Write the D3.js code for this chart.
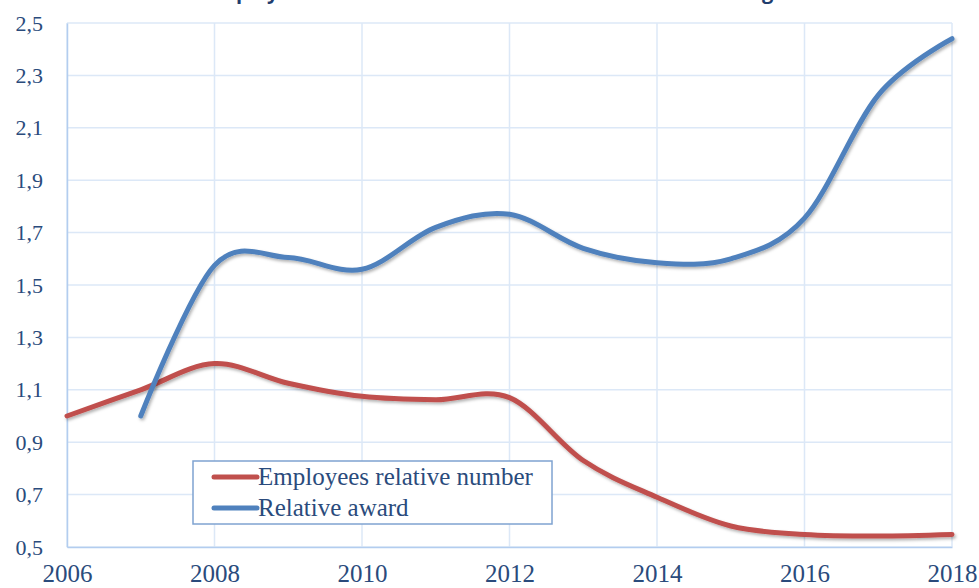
<!DOCTYPE html>
<html>
<head>
<meta charset="utf-8">
<script src="https://cdn.jsdelivr.net/npm/d3@7"></script>
<style>
  html, body { margin: 0; padding: 0; background: #ffffff; overflow: hidden; }
  svg { display: block; }
</style>
</head>
<body>
<script>
'use strict';

// chart data
const years = [2006, 2007, 2008, 2009, 2010, 2011, 2012, 2013, 2014, 2015, 2016, 2017, 2018];
const employeesRelative = [1.0, 1.1, 1.2, 1.125, 1.075, 1.062, 1.07, 0.83, 0.69, 0.58, 0.548, 0.542, 0.548];
const awardRelative = [null, 1.0, 1.575, 1.605, 1.56, 1.72, 1.77, 1.64, 1.585, 1.6, 1.755, 2.225, 2.44];
const seriesNames = ["Employees relative number", "Relative award"];
const yTicks = [0.5, 0.7, 0.9, 1.1, 1.3, 1.5, 1.7, 1.9, 2.1, 2.3, 2.5];
const xTicks = [2006, 2008, 2010, 2012, 2014, 2016, 2018];
const titleText = "Employees relative number and relative award in the region";

(function() {

  let svgContainer = "";
  const textColor = "#2a4b7c";
  const gridColor = "#dce8f7";

  window.onload = function() {
    svgContainer = d3.select('body')
      .append('svg')
      .attr('width', 979)
      .attr('height', 588);

    // soft shadow under the lines, like the office chart
    let defs = svgContainer.append('defs');
    defs.append('filter')
      .attr('id', 'shadow')
      .attr('x', '-5%').attr('y', '-5%')
      .attr('width', '110%').attr('height', '120%')
      .append('feDropShadow')
        .attr('dx', 1.5)
        .attr('dy', 2)
        .attr('stdDeviation', 1.5)
        .attr('flood-color', '#000')
        .attr('flood-opacity', 0.3);

    makeChart();
  }

  function makeChart() {
    // scales
    let xScale = d3.scaleLinear()
      .domain([2006, 2018])
      .range([67, 952]);

    let yScale = d3.scaleLinear()
      .domain([0.5, 2.5])
      .range([547, 23]);

    // title, only its bottom edge is left in the picture
    svgContainer.append('text')
      .attr('x', 505)
      .attr('y', -1)
      .attr('text-anchor', 'middle')
      .attr('fill', '#1f3d6e')
      .style('font-family', '"Open Sans", sans-serif')
      .style('font-weight', 'bold')
      .style('font-size', '20px')
      .text(titleText);

    // horizontal grid
    svgContainer.append('g')
      .selectAll('line')
      .data(yTicks)
      .enter()
      .append('line')
        .attr('x1', xScale(2006))
        .attr('x2', xScale(2018))
        .attr('y1', (d) => yScale(d))
        .attr('y2', (d) => yScale(d))
        .attr('stroke', gridColor)
        .attr('stroke-width', 1.5);

    // vertical grid
    svgContainer.append('g')
      .selectAll('line')
      .data(xTicks)
      .enter()
      .append('line')
        .attr('x1', (d) => xScale(d))
        .attr('x2', (d) => xScale(d))
        .attr('y1', yScale(2.5))
        .attr('y2', yScale(0.5))
        .attr('stroke', gridColor)
        .attr('stroke-width', 1.5);

    // axes
    let xAxis = d3.axisBottom(xScale)
      .tickValues(xTicks)
      .tickSize(0)
      .tickPadding(17)
      .tickFormat(d3.format('d'));
    let gx = svgContainer.append('g')
      .attr('transform', 'translate(0,' + yScale(0.5) + ')')
      .call(xAxis);
    gx.select('.domain').attr('stroke', '#b3cdef').attr('stroke-width', 1.5);
    gx.selectAll('text')
      .attr('fill', textColor)
      .style('font-family', '"Liberation Serif", serif')
      .style('font-size', '25px');

    let yAxis = d3.axisLeft(yScale)
      .tickValues(yTicks)
      .tickSize(0)
      .tickPadding(24)
      .tickFormat((d) => d3.format('.1f')(d).replace('.', ','));
    let gy = svgContainer.append('g')
      .attr('transform', 'translate(' + xScale(2006) + ',0)')
      .call(yAxis);
    gy.select('.domain').attr('stroke', '#b3cdef').attr('stroke-width', 1.5);
    gy.selectAll('text')
      .attr('fill', textColor)
      .style('font-family', '"Liberation Serif", serif')
      .style('font-size', '22px');

    // lines
    let lineGen = d3.line()
      .defined((d) => d.v !== null)
      .x((d) => xScale(d.year))
      .y((d) => yScale(d.v))
      .curve(d3.curveCardinal.tension(0));

    let employeesData = years.map((y, i) => ({ year: y, v: employeesRelative[i] }));
    let awardData = years.map((y, i) => ({ year: y, v: awardRelative[i] }))
      .filter((d) => d.v !== null);

    svgContainer.append('path')
      .datum(employeesData)
      .attr('d', lineGen)
      .attr('fill', 'none')
      .attr('stroke', '#c0504d')
      .attr('stroke-width', 5)
      .attr('stroke-linecap', 'round')
      .attr('filter', 'url(#shadow)');

    svgContainer.append('path')
      .datum(awardData)
      .attr('d', lineGen)
      .attr('fill', 'none')
      .attr('stroke', '#4f81bd')
      .attr('stroke-width', 5)
      .attr('stroke-linecap', 'round')
      .attr('filter', 'url(#shadow)');

    makeLegend();
  }

  // legend box in the lower left
  function makeLegend() {
    let legend = svgContainer.append('g')
      .attr('transform', 'translate(193, 461)');

    legend.append('rect')
      .attr('width', 359)
      .attr('height', 63)
      .attr('fill', '#ffffff')
      .attr('stroke', '#7fa3d1')
      .attr('stroke-width', 1.5);

    let colors = ['#c0504d', '#4f81bd'];
    let rows = legend.selectAll('.row')
      .data(seriesNames)
      .enter()
      .append('g')
        .attr('transform', (d, i) => 'translate(0,' + (16 + i * 31) + ')');

    rows.append('line')
      .attr('x1', 21)
      .attr('x2', 64)
      .attr('stroke', (d, i) => colors[i])
      .attr('stroke-width', 5)
      .attr('stroke-linecap', 'round');

    rows.append('text')
      .attr('x', 65)
      .attr('y', 8)
      .attr('fill', textColor)
      .style('font-family', '"Liberation Serif", serif')
      .style('font-size', '25px')
      .text((d) => d);
  }

})();
</script>
</body>
</html>
